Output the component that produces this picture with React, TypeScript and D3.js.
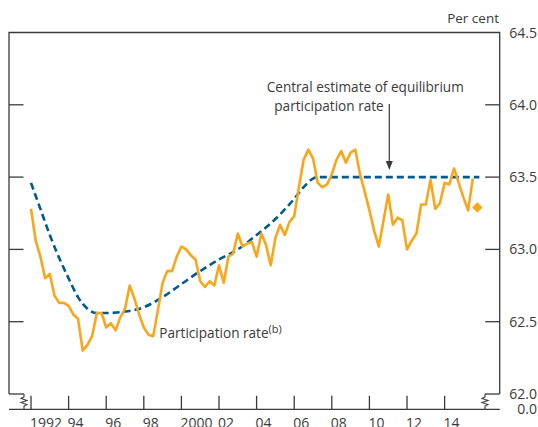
import React from 'react';
import * as d3 from 'd3';

// Participation rate (b), quarterly from 1992 Q1
const participationStart = 1992;
const participationRate = [
  63.28, 63.06, 62.95, 62.80, 62.83, 62.68, 62.63, 62.63, 62.61, 62.55,
  62.52, 62.30, 62.34, 62.40, 62.56, 62.56, 62.46, 62.49, 62.44, 62.53,
  62.59, 62.75, 62.66, 62.55, 62.46, 62.41, 62.40, 62.58, 62.77, 62.85,
  62.85, 62.95, 63.02, 63.00, 62.96, 62.93, 62.78, 62.74, 62.78, 62.75,
  62.89, 62.77, 62.95, 62.97, 63.11, 63.02, 63.04, 63.05, 62.95, 63.11,
  63.03, 62.89, 63.08, 63.17, 63.10, 63.19, 63.23, 63.43, 63.62, 63.69,
  63.63, 63.46, 63.43, 63.45, 63.52, 63.62, 63.68, 63.60, 63.67, 63.69,
  63.52, 63.40, 63.27, 63.13, 63.02, 63.20, 63.38, 63.17, 63.22, 63.20,
  63.00, 63.06, 63.11, 63.31, 63.31, 63.48, 63.28, 63.32, 63.46, 63.45,
  63.56, 63.46, 63.36, 63.27, 63.49,
];

// Central estimate of equilibrium participation rate
const equilibriumYears = [
  1992, 1992.5, 1993, 1993.5, 1994, 1994.5, 1995, 1995.5, 1996, 1997,
  1998, 1999, 2000, 2001, 2002, 2003, 2004, 2005, 2006, 2006.5,
  2007, 2007.25, 2015.85,
];
const equilibriumRate = [
  63.46, 63.28, 63.10, 62.94, 62.80, 62.67, 62.59, 62.56, 62.56, 62.57,
  62.60, 62.67, 62.76, 62.85, 62.93, 63.00, 63.10, 63.21, 63.35, 63.43,
  63.49, 63.50, 63.50,
];

const latestYear = [2015.74];
const latestValue = [63.29];

const yTicks = [62.0, 62.5, 63.0, 63.5, 64.0, 64.5];
const yTickLabels = ['62.0', '62.5', '63.0', '63.5', '64.0', '64.5'];
const xTickYears = [1992, 1994, 1996, 1998, 2000, 2002, 2004, 2006, 2008, 2010, 2012, 2014];
const xTickLabels = ['1992', '94', '96', '98', '2000', '02', '04', '06', '08', '10', '12', '14'];

const ORANGE = '#FAA61C';
const BLUE = '#005B8F';
const INK = '#3a3a3a';
const FONT = '"Open Sans", "DejaVu Sans", sans-serif';

export default function App() {
  const left = 9;
  const right = 499.7;
  const top = 32.5;
  const bottom = 394;
  const axisY = 409.3;

  const x = d3.scaleLinear().domain([1990.83, 2016.93]).range([left, right]);
  const y = d3.scaleLinear().domain([62, 64.5]).range([bottom, top]);

  const partData = participationRate.map((v, i) => [participationStart + i * 0.25, v] as [number, number]);
  const eqData = equilibriumYears.map((t, i) => [t, equilibriumRate[i]] as [number, number]);

  const line = d3.line<[number, number]>().x(d => x(d[0])).y(d => y(d[1]));
  const eqLine = d3
    .line<[number, number]>()
    .x(d => x(d[0]))
    .y(d => y(d[1]))
    .curve(d3.curveMonotoneX);

  const zig = (cx: number) =>
    `M${cx},${bottom} L${cx},${bottom + 3} L${cx - 3},${bottom + 4.5} L${cx + 3},${bottom + 6.5} L${cx - 3},${bottom + 8.5} L${cx + 3},${bottom + 10.5} L${cx},${bottom + 12} L${cx},${axisY}`;

  const dx = x(latestYear[0]);
  const dy = y(latestValue[0]);
  const ds = 5.2;

  const arrowX = 389.3;

  return (
    <svg
      width={538}
      height={427}
      style={{ position: 'absolute', left: 0, top: 0, background: '#fff' }}
      fontFamily={FONT}
    >
      <rect x={0} y={0} width={538} height={427} fill="#fff" />

      {/* frame */}
      <path
        d={`M${left},${bottom} L${left},${top} L${right},${top} L${right},${bottom}`}
        fill="none"
        stroke={INK}
        strokeWidth={1.3}
      />
      <line x1={left} x2={24} y1={bottom} y2={bottom} stroke={INK} strokeWidth={1.3} />
      <line x1={485} x2={right} y1={bottom} y2={bottom} stroke={INK} strokeWidth={1.3} />
      <path d={zig(24)} fill="none" stroke={INK} strokeWidth={1.1} />
      <path d={zig(485)} fill="none" stroke={INK} strokeWidth={1.1} />
      <line x1={left} x2={right} y1={axisY} y2={axisY} stroke={INK} strokeWidth={1.3} />

      {/* y ticks */}
      {yTicks.map((t, i) => (
        <g key={t}>
          {i > 0 && i < yTicks.length - 1 && (
            <>
              <line x1={left} x2={left + 14.5} y1={y(t)} y2={y(t)} stroke={INK} strokeWidth={1.3} />
              <line x1={right - 14.5} x2={right} y1={y(t)} y2={y(t)} stroke={INK} strokeWidth={1.3} />
            </>
          )}
          <text x={537} y={y(t)} dy="0.36em" textAnchor="end" fontSize={14} fill={INK}>
            {yTickLabels[i]}
          </text>
        </g>
      ))}
      <text x={537} y={axisY} dy="0.36em" textAnchor="end" fontSize={14} fill={INK}>
        0.0
      </text>

      {/* x ticks */}
      {xTickYears.map((t, i) => (
        <g key={t}>
          <line x1={x(t)} x2={x(t)} y1={axisY - 13.5} y2={axisY} stroke={INK} strokeWidth={1.3} />
          <text x={x(t) - 1} y={428} textAnchor="start" fontSize={14} fill={INK}>
            {xTickLabels[i]}
          </text>
        </g>
      ))}

      <text x={499} y={23} textAnchor="end" fontSize={13.5} fill={INK}>
        Per cent
      </text>

      {/* series */}
      <path
        d={eqLine(eqData) || ''}
        fill="none"
        stroke={BLUE}
        strokeWidth={2.6}
        strokeDasharray="7 4"
      />
      <path
        d={line(partData) || ''}
        fill="none"
        stroke={ORANGE}
        strokeWidth={2.6}
        strokeLinejoin="round"
      />
      <path
        d={`M${dx},${dy - ds} L${dx + ds},${dy} L${dx},${dy + ds} L${dx - ds},${dy} Z`}
        fill={ORANGE}
      />

      {/* annotations */}
      <text x={266.7} y={92} fontSize={13.6} fill={INK}>
        Central estimate of equilibrium
      </text>
      <text x={274.3} y={110.5} fontSize={13.6} fill={INK}>
        participation rate
      </text>
      <line x1={arrowX} x2={arrowX} y1={104} y2={162} stroke={INK} strokeWidth={1.2} />
      <path d={`M${arrowX - 3.5},${161} L${arrowX + 3.5},${161} L${arrowX},${170} Z`} fill={INK} />

      <text x={159.3} y={338} fontSize={13.6} fill={INK}>
        Participation rate
        <tspan dy={-5} fontSize={11}>(b)</tspan>
      </text>
    </svg>
  );
}
